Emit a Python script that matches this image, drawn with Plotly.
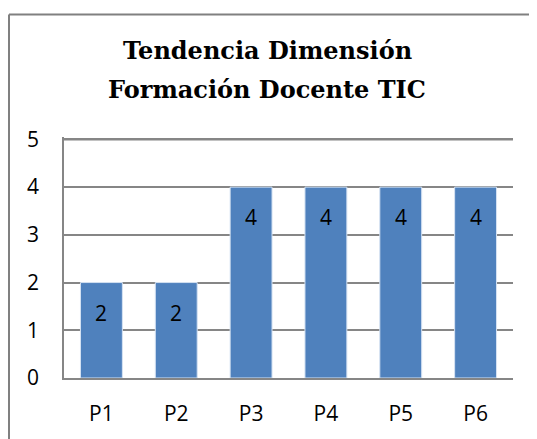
import plotly.graph_objects as go

categories = ["P1", "P2", "P3", "P4", "P5", "P6"]
values = [2, 2, 4, 4, 4, 4]
y_ticks = [0, 1, 2, 3, 4, 5]
title_lines = ["Tendencia Dimensión", "Formación Docente TIC"]

# page has an 8px body margin, so the figure starts at (8, 8)
OFF = 8
W, H = 537 - OFF, 439 - OFF
L, R, T, B = 56, 24, 129, 58
pw, ph = W - L - R, H - T - B

SERIF = "DejaVu Serif"

fig = go.Figure(go.Bar(
    x=categories, y=values,
    marker=dict(color="#4F81BD", line=dict(color="#D6E3F3", width=1)),
    hoverinfo="skip",
))

for c, v in zip(categories, values):
    fig.add_annotation(x=c, y=v, text=str(v), showarrow=False,
                       yanchor="middle", yshift=-30,
                       font=dict(family="Open Sans", size=21, color="black"))

def px_x(p):
    return (p - OFF - L) / pw

def px_y(p):
    return (H - B - (p - OFF)) / ph

fig.add_annotation(xref="paper", yref="paper", x=px_x(267), y=px_y(49),
                   text="<b>%s</b>" % title_lines[0], showarrow=False,
                   xanchor="center", yanchor="middle",
                   font=dict(family=SERIF, size=24, color="black"))
fig.add_annotation(xref="paper", yref="paper", x=px_x(267), y=px_y(89),
                   text="<b>%s</b>" % title_lines[1], showarrow=False,
                   xanchor="center", yanchor="middle",
                   font=dict(family=SERIF, size=24, color="black"))

# chart frame: left and top edges (right/bottom run off the picture)
fig.add_shape(type="line", xref="paper", yref="paper",
              x0=px_x(9), x1=px_x(9), y0=px_y(13), y1=px_y(460),
              line=dict(color="#808080", width=2))
fig.add_shape(type="line", xref="paper", yref="paper",
              x0=px_x(9), x1=px_x(560), y0=px_y(13), y1=px_y(13),
              line=dict(color="#808080", width=2))
# top gridline at the highest tick
fig.add_shape(type="line", xref="paper", yref="y",
              x0=0, x1=1, y0=y_ticks[-1], y1=y_ticks[-1],
              line=dict(color="#868686", width=2), layer="above")

fig.update_layout(
    width=W, height=H,
    margin=dict(l=L, r=R, t=T, b=B),
    paper_bgcolor="white", plot_bgcolor="white",
    bargap=0.44, showlegend=False,
    font=dict(family="Open Sans", size=21, color="black"),
)
fig.update_xaxes(showline=True, linecolor="#868686", linewidth=2,
                 ticks="", tickfont=dict(size=21), ticklabelstandoff=16)
fig.update_yaxes(range=[0, 5.05], tickvals=y_ticks, showgrid=True,
                 gridcolor="#868686", gridwidth=1.5, zeroline=False,
                 showline=True, linecolor="#868686", linewidth=1.5,
                 ticks="", tickfont=dict(size=21), ticklabelstandoff=19)

fig.write_html("out.html")
